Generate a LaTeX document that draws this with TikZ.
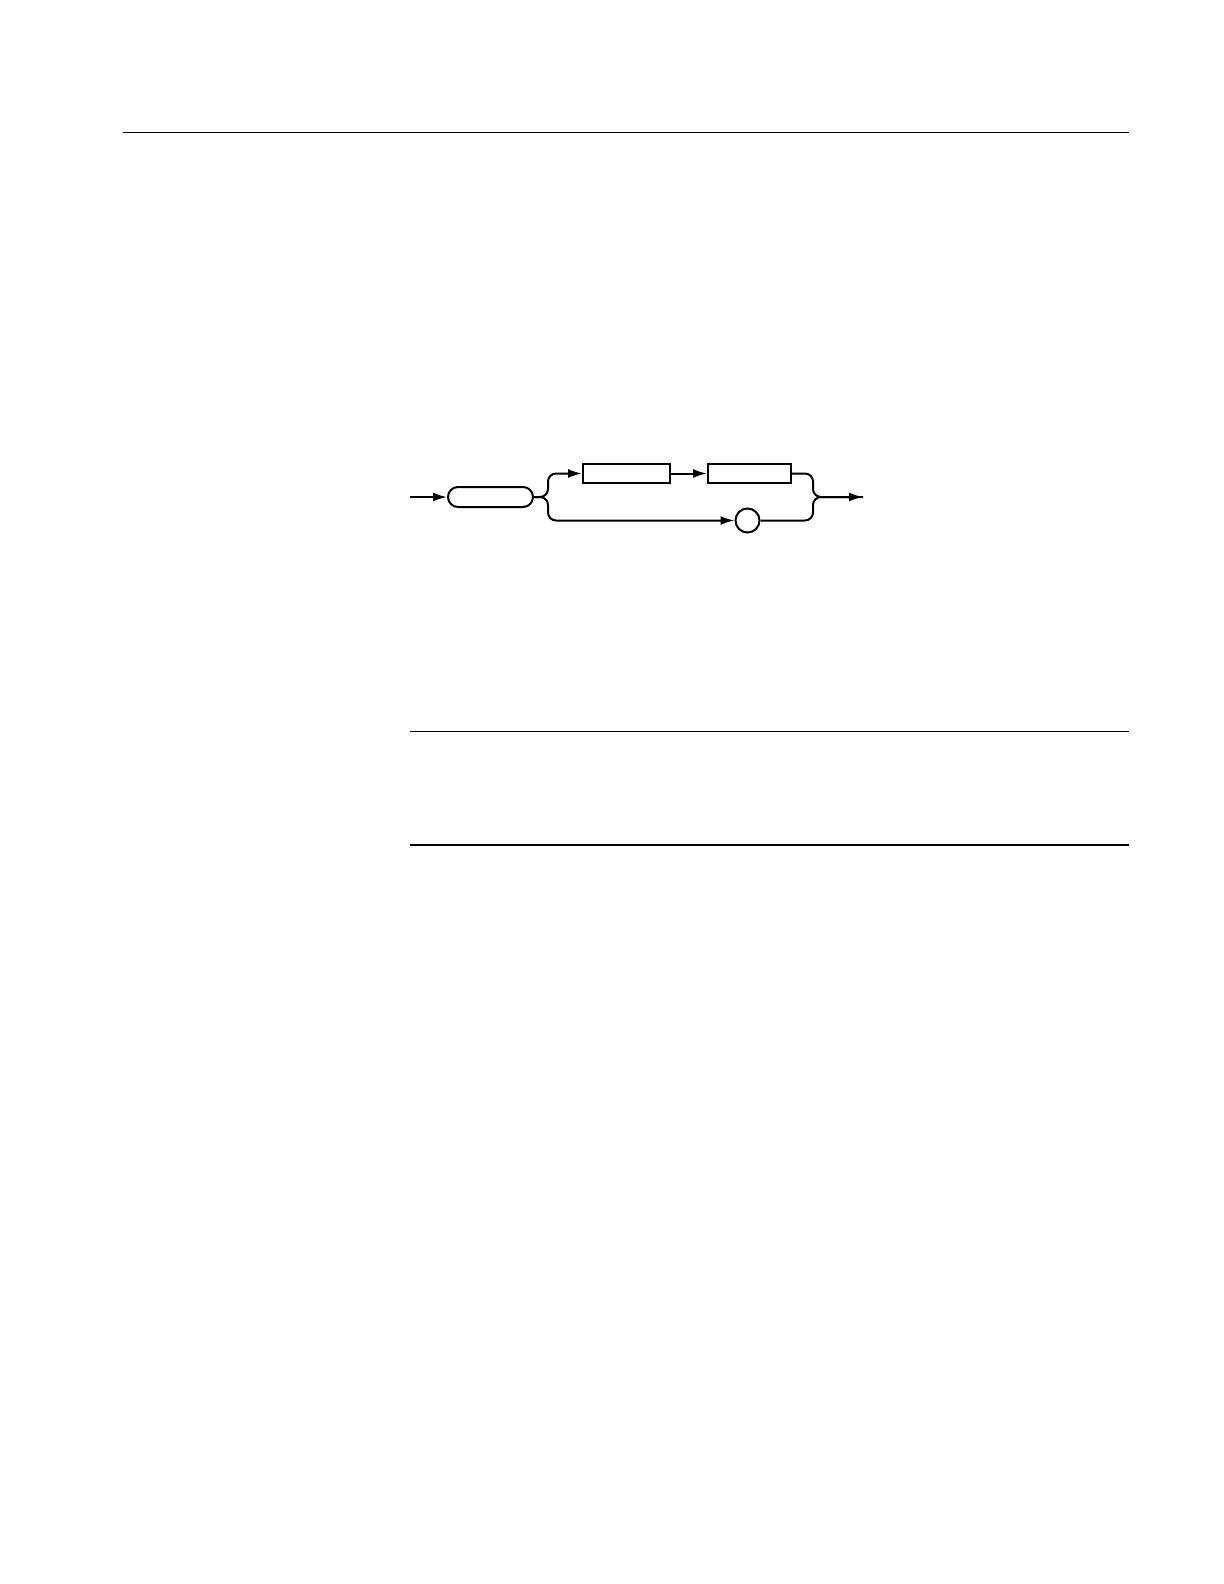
\documentclass[tikz,border=0pt]{standalone}
\usepackage{amsmath}
\usepackage{amssymb}
\usetikzlibrary{arrows.meta}

\begin{document}
\begin{tikzpicture}[x=0.5pt,y=-0.5pt,
  line width=1pt,
  main node/.style={draw,rectangle,inner sep=0pt,minimum height=9.5pt},
  round node/.style={draw,rectangle,rounded corners=5pt,inner sep=0pt,minimum width=42.5pt,minimum height=10pt},
  dot node/.style={draw,circle,inner sep=0pt,minimum size=12pt},
  tip/.style={-{Latex[length=7pt,width=4.5pt]}},
  rule/.style={line width=0.8pt}]
  \useasboundingbox (0,0) rectangle (1224,1584);

  \draw[rule] (123,132.5) -- (1129,132.5);
  \draw[rule] (410,731.5) -- (1129,731.5);
  \draw[rule] (410,845) -- (1129,845);

  \coordinate (s) at (410,497);
  \node[round node] (n0) at (490.5,497) {};
  \node[main node,minimum width=43.5pt] (n1) at (626.5,473.5) {};
  \node[main node,minimum width=41.5pt] (n2) at (749.5,473.5) {};
  \node[dot node] (n3) at (747.5,520.5) {};
  \coordinate (e) at (863,497);
  \coordinate (l) at (548,497);
  \coordinate (r) at (813,497);

 \path[]
 (s) [tip] edge node [] {} (n0)
 (n1) [tip] edge node [] {} (n2);
 \draw[tip,rounded corners=4pt] (n0.east) -| (l |- n1.west) -- (n1.west);
 \draw[tip,rounded corners=4pt] (n0.east) -| (l |- n3.west) -- (n3.west);
 \draw[rounded corners=4pt] (n2.east) -| (r) -- (e);
 \draw[tip,rounded corners=4pt] (n3.east) -| (r) -- (e);
\end{tikzpicture}
\end{document}
